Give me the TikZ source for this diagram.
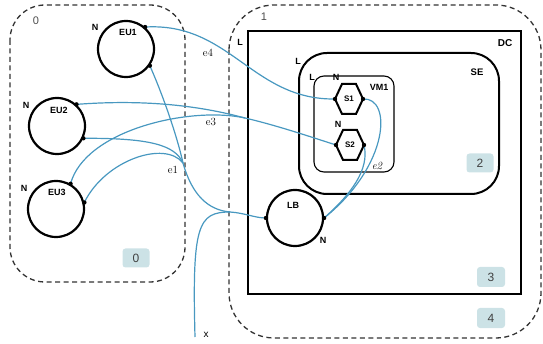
\documentclass[tikz,border=0pt]{standalone}
\usepackage{fontspec}
\newfontfamily\sansf{Liberation Sans}
\definecolor{linkblue}{RGB}{72,152,192}
\definecolor{badgefill}{RGB}{204,226,230}
\begin{document}
\begin{tikzpicture}[x=1pt,y=-1pt,
  lbl/.style={font=\sansf\bfseries\fontsize{9}{10}\selectfont, inner sep=0pt},
  numlbl/.style={font=\sansf\fontsize{11}{12}\selectfont, text=black!70, inner sep=0pt},
  elbl/.style={font=\fontsize{11}{12}\selectfont, inner sep=0pt},
  circ/.style={circle, draw, line width=2.2pt, minimum size=56pt, inner sep=0pt},
  hexl/.style={line width=2pt, line join=miter},
  conn/.style={draw=linkblue, line width=1.2pt},
  portdot/.style={fill=black},
  badge/.style={fill=badgefill, rounded corners=3pt, minimum width=27pt, minimum height=19pt, inner sep=0pt, font=\sansf\fontsize{12}{12}\selectfont, text=black!75},
  grp/.style={draw=black!80, line width=1.3pt, dash pattern=on 5pt off 3.5pt},
  hexnode/.style={font=\sansf\bfseries\fontsize{8}{9}\selectfont, inner sep=0pt, minimum size=10pt}
]
\useasboundingbox (0,0) rectangle (543,344);

% group boxes
\draw[grp, rounded corners=35pt] (10,5) rectangle (185,282);
\draw[grp, rounded corners=45pt] (229,5) rectangle (541,338);
\node[numlbl] (g0) at (36,21) {0};
\node[numlbl] (g1) at (264,17) {1};

% containers
\draw[line width=2.5pt] (248,31) rectangle (521,294);
\draw[line width=2pt, rounded corners=28pt] (299,53) rectangle (499,194);
\draw[line width=1.1pt, rounded corners=10pt] (314,76) rectangle (394,172);
\node[lbl] (L1) at (240,42) {L};
\node[lbl] (L2) at (298,61) {L};
\node[lbl] (L3) at (312,77) {L};
\node[lbl, font=\sansf\bfseries\fontsize{10}{11}\selectfont] (DC) at (505,43) {DC};
\node[lbl, font=\sansf\bfseries\fontsize{9.5}{11}\selectfont] (SE) at (477,72) {SE};
\node[lbl] (VM1) at (379,87) {VM1};

% circle nodes
\node[circ] (EU1) at (126,49) {};
\node[circ] (EU2) at (57,126) {};
\node[circ] (EU3) at (56,209) {};
\node[circ] (LB) at (295,218) {};
\node[lbl] (tEU1) at (128,32) {EU1};
\node[lbl] (tEU2) at (59,110) {EU2};
\node[lbl] (tEU3) at (57,192) {EU3};
\node[lbl] (tLB) at (293,205) {LB};
\node[lbl] (nEU1) at (95,27) {N};
\node[lbl] (nEU2) at (26,105) {N};
\node[lbl] (nEU3) at (24,188) {N};
\node[lbl] (nLB) at (323,240) {N};

% hexagon nodes
\node[hexnode] (S1) at (349,99) {S1};
\node[hexnode] (S2) at (350,145) {S2};
\foreach \s in {S1,S2}{
  \draw[hexl] ([xshift=-14pt]\s.center) -- ++(7,-15) -- ++(14,0) -- ++(7,15) -- ++(-7,15) -- ++(-14,0) -- cycle;
}
\node[lbl] (nS1) at (336,77) {N};
\node[lbl] (nS2) at (338,124) {N};

% ports
\coordinate (EU1a) at (EU1.49);
\coordinate (EU1b) at (EU1.-35);
\coordinate (EU2a) at (EU2.48);
\coordinate (EU2b) at (EU2.-25);
\coordinate (EU3a) at (EU3.60);
\coordinate (EU3b) at (EU3.13);
\coordinate (LBa) at (LB.180);
\coordinate (LBb) at (LB.0);
\coordinate (S1a) at ([xshift=-14pt]S1.center);
\coordinate (S1b) at ([xshift=14pt]S1.center);
\coordinate (S2a) at ([xshift=-14pt]S2.center);
\coordinate (S2b) at ([xshift=14pt]S2.center);

% junctions
\coordinate (J3) at (245,118);
\coordinate (J1) at (183,163);
\coordinate (M1) at (230,212);
\coordinate (X) at (195,337);

% connectors
\draw[conn] (EU1a) .. controls (230,22) and (252,100) .. (S1a);
\draw[conn] (EU2a) .. controls (160,98) and (215,110) .. (J3);
\draw[conn] (EU3a) .. controls (85,130) and (190,106) .. (J3);
\draw[conn] (J3) .. controls (275,125) and (305,135) .. (S2a);
\draw[conn] (EU1b) .. controls (165,100) and (178,140) .. (J1);
\draw[conn] (EU2b) .. controls (150,138) and (175,145) .. (J1);
\draw[conn] (EU3b) .. controls (105,160) and (165,140) .. (J1);
\draw[conn] (J1) .. controls (192,195) and (208,210) .. (M1) .. controls (245,213) and (255,218) .. (LBa);
\draw[conn] (X) .. controls (192,225) and (198,212) .. (M1);
\draw[conn] (S1b) .. controls (392,97) and (390,165) .. (LBb);
\draw[conn] (S2b) .. controls (370,170) and (350,195) .. (LBb);

\foreach \p in {EU1a,EU1b,EU2a,EU2b,EU3a,EU3b,LBa,LBb,S1a,S1b,S2a,S2b}{
  \fill[portdot] (\p) circle (2.2pt);
}

% edge labels
\node[elbl] (e4) at (208,53) {e4};
\node[elbl] (e3) at (211,122) {e3};
\node[elbl] (e1) at (173,170) {e1};
\node[elbl, font=\itshape\fontsize{11}{12}\selectfont] (e2) at (377,166) {e2};
\node[font=\sansf\fontsize{10}{11}\selectfont, inner sep=0pt] (xl) at (206,335) {x};

% badges
\node[badge] (b0) at (136,258) {0};
\node[badge] (b2) at (480,163) {2};
\node[badge, minimum width=28pt, minimum height=20pt] (b3) at (491,277) {3};
\node[badge, minimum width=28pt, minimum height=20pt] (b4) at (491,318) {4};
\end{tikzpicture}
\end{document}
